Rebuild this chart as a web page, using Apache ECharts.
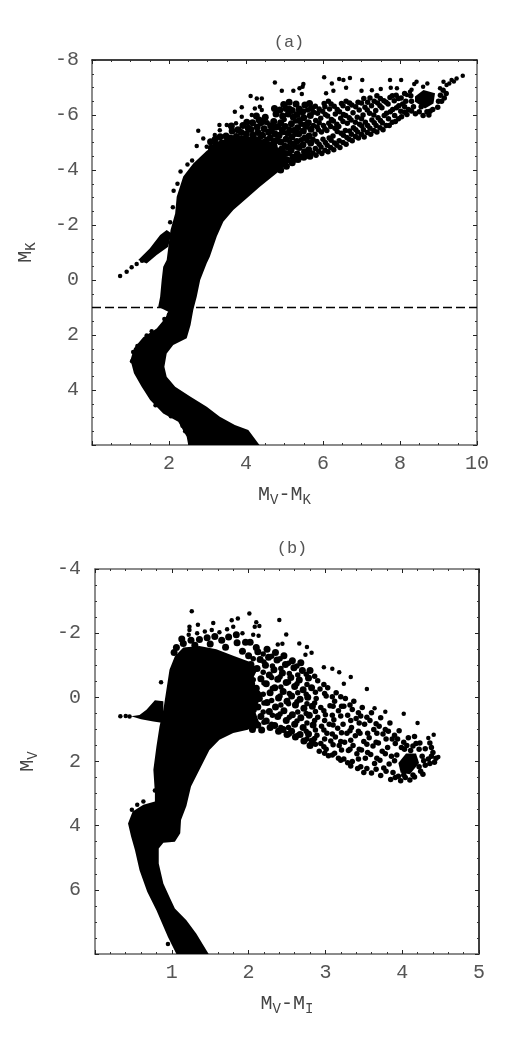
<!DOCTYPE html>
<html>
<head>
<meta charset="utf-8">
<style>
  html, body { margin: 0; padding: 0; background: #fff; }
  #chart { width: 510px; height: 1045px; }
</style>
</head>
<body>
<div id="chart"></div>
<script src="https://cdn.jsdelivr.net/npm/echarts@6/dist/echarts.min.js"></script>
<script>
// panel (a): MK against MV-MK
// solid black parts of the sequence, read as outlines
const aCore = [[2.5,6],[2.46,5.7],[2.24,5.15],[1.85,4.85],[1.51,4.36],[1.29,3.88],[1.09,3.39],[1,2.91],[1.09,2.48],[1.33,2.08],[1.68,1.76],[1.9,1.39],[1.98,1.15],[1.72,0.97],[1.77,0.61],[1.81,0],[1.85,-0.48],[1.94,-0.73],[2.04,-1.82],[2.16,-2.42],[2.2,-3.03],[2.37,-3.76],[2.63,-4.24],[2.98,-4.7],[3.4,-5.1],[3.8,-5.25],[4.2,-5.2],[4.6,-5.05],[4.95,-4.7],[5.1,-4.3],[4.9,-4.0],[4.36,-3.39],[4.02,-2.97],[3.67,-2.55],[3.41,-2.12],[3.24,-1.58],[3.06,-0.85],[2.98,-0.61],[2.81,0],[2.72,0.61],[2.63,1.09],[2.56,1.64],[2.46,2.12],[2.11,2.36],[1.94,2.67],[1.88,3.15],[1.94,3.52],[2.16,3.88],[2.55,4.24],[2.98,4.61],[3.32,4.97],[3.71,5.27],[4.06,5.45],[4.35,6]];
const aBranch = [[1.2,-0.73],[1.5,-1.15],[1.77,-1.64],[1.94,-1.82],[2.06,-1.7],[1.98,-1.21],[1.68,-0.91],[1.42,-0.6]];
const aBlob = [[8.39,-6.67],[8.61,-6.91],[8.91,-6.79],[8.87,-6.42],[8.65,-6.24],[8.39,-6.48]];
// single stars
const aStars = [
[0.73,-0.15],[0.9,-0.3],[1.03,-0.46],[1.16,-0.58],[1.3,-0.7],
[4.75,-7.18],[4.93,-6.88],[5.23,-6.88],[5.39,-6.97],[5.49,-7.13],[5.47,-7.03],[5.45,-6.76],[6.03,-7.37],[6.23,-7.15],[6.42,-7.31],[6.53,-7.27],[6.7,-7.35],[7.02,-7.27],[7.74,-7.27],[8.03,-7.27],[6.6,-6.99],[6.27,-6.88],[6.08,-6.79],[7,-6.88],[7.27,-6.9],[7.5,-6.95],[7.76,-6.99],[7.92,-6.97],
[8.43,-7.21],[8.37,-7.13],[8.71,-7.15],[8.6,-7.03],[9.34,-7.27],[9.47,-7.33],[9.63,-7.43],[9.13,-7.21],[9.21,-7.09],[9.04,-6.97],[8.26,-6.85],[8.18,-6.73],[8.3,-6.92],[9.28,-7.15],[9.4,-7.22],
[2.76,-5.43],[2.89,-5.15],[2.72,-4.87],[2.98,-4.85],[3.19,-5.27],[3.32,-5.45],[3.31,-5.64],[3.5,-5.64],[3.71,-6.12],[3.89,-6.28],[3.74,-5.7],[3.89,-5.94],[4.12,-6.69],[4.28,-6.6],[4.41,-6.6],[4.36,-6.3],[4.23,-6.24],[4.41,-6.18],[4.15,-6],
[2.6,-4.35],[2.48,-4.2],[2.3,-3.95],[2.22,-3.5],[2.12,-3.25],[2.1,-2.65],[2.03,-2.1],[1.04,2.95],[1.07,2.62],[1.18,2.4],[1.42,2.02],[1.55,1.86],[1.88,1.42],[2.0,1.25],[2.35,5.3],[2.42,5.5],[2.05,4.95],[1.65,4.55]
];
// thick part of the upper cloud, stars overlap here
const aCloud = [
[3.1,-4.8],[3.08,-5.03],[3.22,-4.92],[3.2,-5.12],[3.36,-4.97],[3.33,-5.21],[3.5,-5.02],[3.48,-5.24],[3.63,-4.94],[3.6,-5.16],[3.64,-5.42],[3.62,-5.6],[3.77,-4.9],[3.75,-5.22],[3.79,-5.46],[3.9,-4.86],[3.93,-5.12],[3.88,-5.36],[3.92,-5.62],[4.03,-4.8],[4.05,-5.02],[4.01,-5.31],[4.06,-5.52],[4.02,-5.74],[4.16,-4.74],[4.14,-5.02],[4.18,-5.26],[4.13,-5.47],[4.17,-5.72],[4.3,-4.6],[4.33,-4.86],[4.28,-5.1],[4.31,-5.36],[4.29,-5.56],[4.34,-5.82],[4.27,-5.96],
[4.46,-4.52],[4.44,-4.8],[4.48,-5.01],[4.43,-5.26],[4.47,-5.5],[4.44,-5.76],[4.5,-5.92],[4.6,-4.4],[4.62,-4.66],[4.58,-4.92],[4.63,-5.16],[4.59,-5.37],[4.64,-5.61],[4.76,-4.12],[4.74,-4.36],[4.78,-4.62],[4.73,-4.86],[4.77,-5.06],[4.75,-5.32],[4.79,-5.56],[4.72,-5.76],[4.78,-6.04],[4.74,-6.24],
[4.9,-4],[4.92,-4.27],[4.88,-4.52],[4.93,-4.76],[4.9,-5.02],[4.86,-5.26],[4.94,-5.46],[4.9,-5.72],[4.95,-5.96],[4.88,-6.18],[4.98,-6.38],[5.05,-4.14],[5.07,-4.36],[5.03,-4.6],[5.08,-4.84],[5.04,-5.12],[5.09,-5.34],[5.02,-5.58],[5.1,-6.04],[5.04,-6.24],[5.12,-6.46],
[5.2,-4.26],[5.22,-4.46],[5.17,-4.72],[5.23,-4.94],[5.19,-5.2],[5.24,-5.44],[5.18,-5.68],[5.23,-5.92],[5.2,-6.16],[5.3,-6.4],[5.35,-4.38],[5.33,-4.58],[5.38,-4.82],[5.32,-5.04],[5.37,-5.32],[5.34,-5.54],[5.39,-5.8],[5.33,-6.02],[5.38,-6.22],
[5.5,-4.46],[5.52,-4.66],[5.48,-4.92],[5.53,-5.16],[5.49,-5.42],[5.54,-5.64],[5.5,-5.9],[5.47,-6.12],[5.53,-6.36],[5.66,-4.5],[5.63,-4.74],[5.68,-4.98],[5.64,-5.24],[5.69,-5.48],[5.62,-5.72],[5.67,-5.98],[5.7,-6.24],[5.65,-6.42]
];
// thinner right side of the cloud
const aSparse = [
[5.82,-4.54],[5.8,-4.78],[5.84,-5.04],[5.79,-5.3],[5.85,-5.56],[5.81,-5.8],[5.86,-6.06],[5.8,-6.32],[5.97,-4.6],[5.95,-4.84],[6,-5.12],[5.96,-5.38],[6.01,-5.62],[5.94,-5.88],[5.99,-6.14],[6.03,-6.42],
[6.13,-4.66],[6.11,-4.9],[6.16,-5.16],[6.1,-5.44],[6.15,-5.7],[6.12,-5.96],[6.17,-6.22],[6.14,-6.5],[6.28,-4.74],[6.3,-4.98],[6.26,-5.24],[6.31,-5.52],[6.27,-5.78],[6.32,-6.04],[6.29,-6.32],[6.44,-4.82],[6.42,-5.06],[6.47,-5.34],[6.41,-5.58],[6.46,-5.88],[6.43,-6.12],[6.48,-6.42],
[6.6,-4.94],[6.62,-5.18],[6.58,-5.44],[6.63,-5.7],[6.59,-5.98],[6.64,-6.24],[6.6,-6.5],[6.76,-5.06],[6.74,-5.3],[6.79,-5.54],[6.73,-5.82],[6.78,-6.08],[6.75,-6.36],[6.92,-5.16],[6.9,-5.38],[6.95,-5.66],[6.89,-5.92],[6.94,-6.18],[6.91,-6.46],
[7.07,-5.2],[7.05,-5.46],[7.1,-5.74],[7.04,-6],[7.09,-6.28],[7.06,-6.6],[7.24,-5.3],[7.22,-5.52],[7.27,-5.82],[7.21,-6.06],[7.26,-6.34],[7.22,-6.62],[7.4,-5.38],[7.38,-5.62],[7.43,-5.9],[7.37,-6.16],[7.42,-6.44],[7.4,-6.7],
[7.56,-5.46],[7.54,-5.72],[7.59,-5.98],[7.53,-6.26],[7.58,-6.52],[7.72,-5.62],[7.7,-5.86],[7.75,-6.12],[7.69,-6.4],[7.74,-6.64],[7.88,-5.76],[7.86,-5.98],[7.91,-6.26],[7.85,-6.52],[7.9,-6.72],[8.04,-5.94],[8.02,-6.14],[8.07,-6.4],[8.03,-6.62],[8.12,-6.78],[8.15,-6.5],
[9.12,-6.9],[9.2,-6.78],[9.05,-6.72],[9.0,-6.5],[8.98,-6.28],[8.85,-6.2],[8.7,-6.12],[8.55,-6.3],[8.35,-6.3],[8.22,-6.2],[8.18,-6.02],[8.4,-6.05],[8.6,-5.98],[8.75,-6.0],[8.3,-6.5]
];
// stars between the ones above, the gaps left are the white specks
const aInfill = [
[4.2,-5.14],[4.38,-5.2],[4.38,-5.68],[4.53,-4.7],[4.54,-5.12],[4.55,-5.72],[4.68,-4.52],[4.7,-4.98],[4.68,-5.46],[4.84,-4.4],[4.83,-5.16],[4.85,-5.6],[4.98,-4.48],[5,-4.9],[4.98,-5.36],[4.99,-5.84],[5.13,-4.6],[5.14,-5.02],[5.13,-5.48],[5.14,-6.24],[5.27,-4.36],[5.28,-4.84],[5.28,-5.3],[5.29,-5.78],[5.43,-4.5],[5.44,-5.1],[5.43,-5.66],[5.44,-6.12],[5.58,-4.58],[5.59,-5.06],[5.58,-5.56],[5.6,-6.18],[5.74,-4.62],[5.74,-5.12],[5.75,-5.62],[5.76,-6.1],
[5.89,-4.68],[5.9,-4.94],[5.88,-5.46],[5.9,-5.72],[5.9,-6.22],[6.05,-4.72],[6.06,-5],[6.05,-5.5],[6.06,-6.02],[6.05,-6.3],[6.2,-4.82],[6.21,-5.08],[6.2,-5.58],[6.22,-5.84],[6.21,-6.4],[6.36,-4.9],[6.37,-5.4],[6.36,-5.66],[6.37,-6.2],[6.52,-5],[6.53,-5.26],[6.52,-5.76],[6.53,-6.02],[6.52,-6.34],[6.68,-5.12],[6.69,-5.42],[6.68,-5.9],[6.69,-6.44],[6.84,-5.22],[6.85,-5.46],[6.84,-5.74],[6.85,-6.3],[7,-5.3],[7.01,-5.6],[7,-5.86],[7,-6.44],
[7.15,-5.36],[7.16,-5.62],[7.15,-6.18],[7.16,-6.46],[7.32,-5.44],[7.33,-5.72],[7.32,-6],[7.33,-6.5],[7.48,-5.54],[7.49,-5.8],[7.48,-6.34],[7.49,-6.6],[7.64,-5.62],[7.65,-6.06],[7.64,-6.46],[7.8,-5.74],[7.81,-6.2],[7.8,-6.7],[7.96,-5.86],[7.97,-6.34],[7.96,-6.6],[8.12,-6.1],[8.12,-6.3],[8.3,-6.15],[8.28,-6.7],[8.5,-6.12],[8.78,-6.14],[9.08,-6.5],[9.15,-6.62]
];
const aCut = 1; // dashed line
const aCutX = [0, 10];

// panel (b): MV against MV-MI
const bCore = [[1.06,8],[0.95,7.47],[0.8,6.64],[0.68,6.06],[0.58,5.39],[0.52,4.76],[0.47,4.34],[0.43,3.93],[0.49,3.56],[0.63,3.35],[0.78,3.25],[0.78,2.99],[0.76,2.26],[0.8,1.53],[0.84,0.91],[0.86,0.7],[0.89,0.39],[0.93,-0.24],[0.97,-0.86],[1.04,-1.28],[1.15,-1.55],[1.36,-1.6],[1.58,-1.5],[1.8,-1.3],[2.02,-1.1],[2.12,-0.9],[2.04,-0.5],[2.18,-0.1],[2.08,0.4],[2.14,0.8],[1.99,1.01],[1.8,1.11],[1.62,1.32],[1.49,1.64],[1.36,2.26],[1.25,2.78],[1.19,3.39],[1.12,3.82],[1.11,4.24],[1.04,4.5],[0.89,4.53],[0.83,4.71],[0.83,5.18],[0.89,5.8],[0.97,6.22],[1.04,6.58],[1.19,6.95],[1.32,7.37],[1.48,8]];
const bBranch = [[0.47,0.59],[0.58,0.55],[0.67,0.39],[0.78,0.09],[0.89,0.12],[0.89,0.8],[0.76,0.75],[0.6,0.68]];
const bBlob = [[3.95,2.05],[4.05,1.75],[4.18,1.75],[4.22,2.05],[4.1,2.4],[3.98,2.35]];
const bStars = [
[0.33,0.59],[0.4,0.58],[0.45,0.6],[0.95,7.69],[0.86,-0.47],[0.48,3.5],[0.55,3.35],[0.63,3.25],[0.78,2.9],
[1.26,-2.68],[2.4,-2.41],[2.01,-2.61],[1.86,-2.46],[1.78,-2.4],[1.54,-2.32],[1.34,-2.26],[1.23,-2.2],[1.23,-2.1],[2.1,-2.34],[2.14,-2.22],[2.08,-2.2],[2.49,-1.96],[2.66,-1.68],[2.38,-1.65],[2.44,-1.67],[2.76,-1.57],[2.82,-1.39],[2.74,-1.33],[2.98,-0.94],[3.09,-0.89],[3.18,-0.78],[3.33,-0.63],[3.24,-0.42],[3.54,-0.26],[3.64,0.34],[3.78,0.45],[4.02,0.51],[4.2,0.8],[4.41,1.17],[4.34,1.27],[4.47,1.86],
[1.22,-1.95],[1.33,-2.0],[1.43,-2.05],[1.52,-2.1],[1.62,-2.03],[1.72,-2.12],[1.8,-2.2],[1.92,-2.0],[2.06,-1.95],[2.13,-1.92]
];
const bCloud = [
[1.06,-1.55],[1.03,-1.4],[1.13,-1.82],[1.15,-1.68],[1.25,-1.78],[1.36,-1.8],[1.46,-1.86],[1.56,-1.9],[1.65,-1.78],[1.74,-1.88],[1.84,-1.95],[1.85,-1.7],[1.96,-1.72],[2.02,-1.72],[2.1,-1.55],[1.3,-1.62],[1.5,-1.66],[1.7,-1.56],[1.92,-1.44],
[2.0,-1.3],[2.03,-1.02],[2,-0.72],[2.04,-0.42],[2.01,-0.12],[2.03,0.2],[2.02,0.5],[2.01,0.78],[2.05,1.0],[2.12,-1.42],[2.15,-1.18],[2.11,-0.9],[2.16,-0.58],[2.1,-0.28],[2.14,0.04],[2.12,0.3],[2.16,0.6],[2.12,0.86],[2.17,1.02],
[2.24,-1.5],[2.26,-1.25],[2.22,-1],[2.27,-0.7],[2.23,-0.42],[2.28,-0.14],[2.24,0.16],[2.27,0.44],[2.23,0.74],[2.28,0.94],[2.35,-1.4],[2.37,-1.16],[2.33,-0.86],[2.38,-0.56],[2.34,-0.3],[2.39,0.02],[2.35,0.3],[2.38,0.6],[2.34,0.88],[2.39,1.06],
[2.46,-1.3],[2.48,-1.02],[2.44,-0.76],[2.49,-0.46],[2.45,-0.18],[2.5,0.12],[2.46,0.42],[2.49,0.72],[2.45,1.0],[2.5,1.16],[2.57,-1.14],[2.59,-0.92],[2.55,-0.62],[2.6,-0.34],[2.56,-0.04],[2.61,0.24],[2.57,0.54],[2.6,0.84],[2.56,1.06],[2.61,1.24],
[2.68,-1.08],[2.7,-0.84],[2.66,-0.54],[2.71,-0.24],[2.67,0.06],[2.72,0.34],[2.68,0.64],[2.71,0.94],[2.67,1.16],[2.72,1.36],[2.8,-0.84],[2.78,-0.6],[2.82,-0.3],[2.77,0],[2.83,0.28],[2.79,0.56],[2.84,0.86],[2.78,1.14],[2.83,1.36],[2.8,1.5]
];
const bSparse = [
[2.9,-0.52],[2.93,-0.26],[2.88,0.04],[2.94,0.32],[2.9,0.62],[2.95,0.9],[2.89,1.18],[2.94,1.44],[2.92,1.68],[3.03,-0.3],[3.01,-0.04],[3.06,0.26],[3,0.54],[3.05,0.84],[3.02,1.12],[3.07,1.36],[3.01,1.62],[3.04,1.82],
[3.14,-0.14],[3.12,0.12],[3.17,0.42],[3.11,0.7],[3.16,0.96],[3.13,1.24],[3.18,1.5],[3.12,1.74],[3.17,1.9],[3.26,0.04],[3.24,0.28],[3.29,0.56],[3.23,0.84],[3.28,1.12],[3.25,1.4],[3.3,1.66],[3.24,1.92],[3.29,2.04],
[3.37,0.12],[3.35,0.38],[3.4,0.66],[3.34,0.94],[3.39,1.2],[3.36,1.5],[3.41,1.76],[3.35,2],[3.42,2.22],[3.48,0.32],[3.46,0.58],[3.51,0.84],[3.45,1.12],[3.5,1.38],[3.47,1.64],[3.52,1.9],[3.46,2.16],[3.5,2.34],
[3.6,0.48],[3.58,0.72],[3.63,1],[3.57,1.26],[3.62,1.52],[3.59,1.78],[3.64,2.06],[3.6,2.36],[3.72,0.64],[3.7,0.9],[3.75,1.14],[3.69,1.42],[3.74,1.68],[3.71,1.96],[3.76,2.2],[3.72,2.44],
[3.84,0.8],[3.82,1.06],[3.87,1.3],[3.81,1.56],[3.86,1.84],[3.83,2.08],[3.88,2.34],[3.85,2.56],[3.96,1.04],[3.94,1.3],[3.99,1.56],[3.93,1.8],[3.95,2.46],[3.98,2.6],[4.08,1.26],[4.06,1.5],[4.11,1.66],[4.04,2.5],[4.1,2.58],[4.16,2.48],
[4.18,1.44],[4.16,1.22],[4.22,1.62],[4.26,1.84],[4.24,2.3],[4.3,2.12],[4.34,1.92],[4.3,1.6],[4.36,1.42],[4.4,1.72],[4.42,2.02],[4.36,2.06],[4.44,1.9],[4.27,2.4],[4.23,1.42]
];
const bInfill = [
[2.06,-1.2],[2.07,-0.85],[2.06,-0.55],[2.07,-0.2],[2.06,0.1],[2.07,0.4],[2.06,0.65],[2.07,0.92],[2.19,-1.35],[2.2,-1.1],[2.19,-0.78],[2.2,-0.45],[2.19,-0.1],[2.2,0.18],[2.19,0.46],[2.2,0.78],[2.3,-1.28],[2.31,-0.98],[2.3,-0.62],[2.31,-0.28],[2.3,0.1],[2.31,0.56],[2.3,0.84],
[2.41,-1.2],[2.42,-0.9],[2.41,-0.64],[2.42,-0.32],[2.41,-0.04],[2.42,0.24],[2.41,0.52],[2.42,0.94],[2.52,-1.06],[2.53,-0.74],[2.52,-0.48],[2.53,-0.12],[2.52,0.2],[2.53,0.62],[2.52,0.94],[2.53,1.14],[2.63,-0.98],[2.64,-0.7],[2.63,-0.42],[2.64,-0.14],[2.63,0.14],[2.64,0.46],[2.63,0.74],[2.64,1.18],
[2.75,-0.72],[2.76,-0.4],[2.75,-0.1],[2.76,0.2],[2.75,0.5],[2.76,0.8],[2.75,1.06],[2.76,1.3],[2.86,-0.66],[2.87,-0.16],[2.86,0.18],[2.87,0.44],[2.86,0.72],[2.87,1.02],[2.86,1.28],[2.87,1.46],[2.98,-0.4],[2.99,-0.12],[2.98,0.42],[2.99,0.72],[2.98,1.02],[2.99,1.3],[2.98,1.54],[2.99,1.74],
[3.09,-0.02],[3.1,0.28],[3.09,0.56],[3.1,0.86],[3.09,1.14],[3.1,1.48],[3.09,1.8],[3.2,-0.02],[3.21,0.28],[3.2,0.58],[3.21,1.1],[3.2,1.38],[3.21,1.64],[3.2,1.96],[3.32,0.24],[3.33,0.72],[3.32,1.04],[3.33,1.34],[3.32,1.62],[3.33,2.14],
[3.43,0.48],[3.44,0.8],[3.43,1.06],[3.44,1.62],[3.43,1.92],[3.54,0.62],[3.55,1.12],[3.54,1.46],[3.55,1.72],[3.54,2.22],[3.66,0.82],[3.67,1.12],[3.66,1.4],[3.67,1.9],[3.66,2.24],[3.78,1],[3.79,1.3],[3.78,1.76],[3.79,2.3],[3.9,1.18],[3.91,1.44],[3.9,1.98],[3.91,2.5],[4.02,1.4],[4.03,1.62],[4.02,2.42],[4.14,1.52],[4.14,2.42],[4.22,2.16],[4.28,1.98],[4.38,1.56],[4.38,1.84]
];

const axisGray = "#666";
const textGray = "#555";
const mono = "'Liberation Mono', 'DejaVu Sans Mono', monospace";

// one frame side with ticks facing in
function frameAxis(kind, gridIndex, position, range, interval, split, color, show, extra) {
    return Object.assign({
        type: "value",
        gridIndex,
        position,
        min: range[0],
        max: range[1],
        interval,
        inverse: kind === "y",
        splitLine: { show: false },
        axisLine: { show: true, onZero: false, lineStyle: { color, width: 1.5 } },
        axisTick: { show: true, inside: true, length: 4, lineStyle: { color: "#222", width: 1 } },
        minorTick: { show: true, splitNumber: split, length: 2, lineStyle: { color: "#333", width: 1 } },
        axisLabel: { show: show, fontFamily: mono, fontSize: 20, color: textGray },
    }, extra || {});
}

function nameStyle() {
    return {
        m: { fontFamily: mono, fontSize: 20, color: "#444" },
        s: { fontFamily: mono, fontSize: 14, color: "#444", padding: [10, 0, 0, 0] },
    };
}

function polygonSeries(points, xi, yi) {
    return {
        type: "custom",
        coordinateSystem: "cartesian2d",
        xAxisIndex: xi,
        yAxisIndex: yi,
        silent: true,
        clip: true,
        data: points,
        renderItem: (params, api) => {
            if (params.dataIndex > 0) return null;
            return {
                type: "polygon",
                shape: { points: points.map((p) => api.coord(p)) },
                style: { fill: "#000" },
            };
        },
    };
}

function starSeries(points, xi, yi, size) {
    return {
        type: "scatter",
        xAxisIndex: xi,
        yAxisIndex: yi,
        data: points,
        symbolSize: size,
        itemStyle: { color: "#000", opacity: 1 },
        silent: true,
    };
}

const chart = echarts.init(document.getElementById("chart"));
chart.setOption({
    animation: false,
    backgroundColor: "#fff",
    title: [
        { text: "(a)", left: 284, top: 29, textAlign: "center", textStyle: { fontFamily: mono, fontSize: 17, fontWeight: "normal", color: textGray } },
        { text: "(b)", left: 287, top: 535, textAlign: "center", textStyle: { fontFamily: mono, fontSize: 17, fontWeight: "normal", color: textGray } },
    ],
    grid: [
        { left: 92, top: 60, width: 385, height: 385 },
        { left: 95, top: 569, width: 384, height: 385 },
    ],
    xAxis: [
        frameAxis("x", 0, "bottom", [0, 10], 2, 4, axisGray, true, {
            axisLabel: { fontFamily: mono, fontSize: 20, color: textGray, margin: 9, showMinLabel: false },
            name: "{m|M}{s|V}{m|-M}{s|K}", nameLocation: "middle", nameGap: 38, nameTextStyle: { rich: nameStyle() },
        }),
        frameAxis("x", 0, "top", [0, 10], 2, 4, "#000", false),
        frameAxis("x", 1, "bottom", [0, 5], 1, 5, axisGray, true, {
            axisLabel: { fontFamily: mono, fontSize: 20, color: textGray, margin: 9, showMinLabel: false },
            name: "{m|M}{s|V}{m|-M}{s|I}", nameLocation: "middle", nameGap: 38, nameTextStyle: { rich: nameStyle() },
        }),
        frameAxis("x", 1, "top", [0, 5], 1, 5, axisGray, false),
    ],
    yAxis: [
        frameAxis("y", 0, "left", [-8, 6], 2, 4, axisGray, true, {
            axisLabel: { fontFamily: mono, fontSize: 20, color: textGray, margin: 13, showMaxLabel: false },
            name: "{m|M}{s|K}", nameLocation: "middle", nameGap: 54, nameRotate: 90, nameTextStyle: { rich: nameStyle() },
        }),
        frameAxis("y", 0, "right", [-8, 6], 2, 4, axisGray, false),
        frameAxis("y", 1, "left", [-4, 8], 2, 4, axisGray, true, {
            axisLabel: { fontFamily: mono, fontSize: 20, color: textGray, margin: 14, showMaxLabel: false },
            name: "{m|M}{s|V}", nameLocation: "middle", nameGap: 55, nameRotate: 90, nameTextStyle: { rich: nameStyle() },
        }),
        frameAxis("y", 1, "right", [-4, 8], 2, 4, "#000", false),
    ],
    series: [
        polygonSeries(aCore, 0, 0),
        polygonSeries(aBranch, 0, 0),
        polygonSeries(aBlob, 0, 0),
        starSeries(aStars, 0, 0, 4.5),
        starSeries(aCloud, 0, 0, 7),
        starSeries(aSparse, 0, 0, 5.5),
        starSeries(aInfill, 0, 0, 5.5),
        {
            type: "line",
            xAxisIndex: 0,
            yAxisIndex: 0,
            data: aCutX.map((x) => [x, aCut]),
            symbol: "none",
            lineStyle: { color: "#000", width: 1.5, type: [9, 4] },
            silent: true,
        },
        polygonSeries(bCore, 2, 2),
        polygonSeries(bBranch, 2, 2),
        polygonSeries(bBlob, 2, 2),
        starSeries(bStars, 2, 2, 4.5),
        starSeries(bCloud, 2, 2, 7),
        starSeries(bSparse, 2, 2, 5.5),
        starSeries(bInfill, 2, 2, 5.5),
    ],
});
</script>
</body>
</html>
